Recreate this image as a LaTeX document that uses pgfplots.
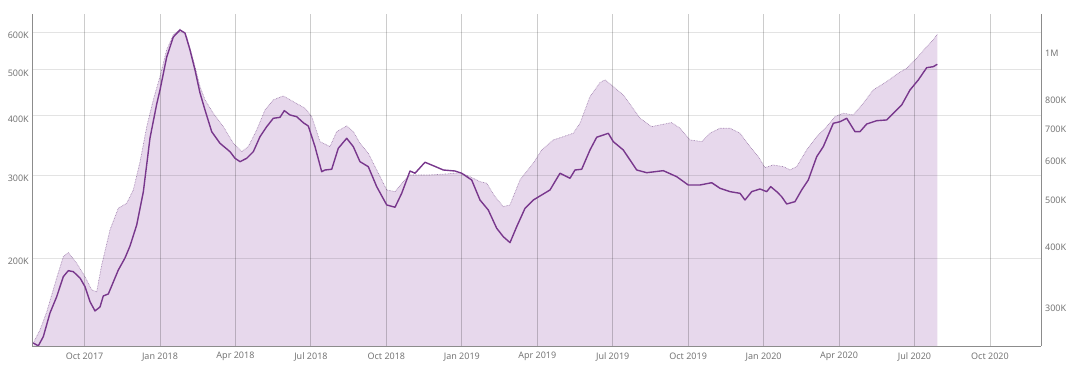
\documentclass[border=0pt]{standalone}
\usepackage{pgfplots}
\pgfplotsset{compat=1.18}
\usepackage{fontspec}
\setmainfont{Noto Sans}
\definecolor{areafill}{RGB}{231,216,236}
\definecolor{areaedge}{RGB}{165,135,178}
\definecolor{linecol}{RGB}{120,55,140}
\definecolor{labcol}{RGB}{118,118,118}
\definecolor{axcol}{RGB}{140,140,140}
\begin{document}
\begin{tikzpicture}
\path[use as bounding box] (-32pt,-22pt) rectangle (1048pt,346pt);
% right axis: area series
\begin{axis}[
  at={(0pt,0pt)}, anchor=south west, scale only axis,
  width=1009pt, height=332pt,
  xmin=6.910, xmax=47.029,
  ymode=log, ymin=251.6, ymax=1204,
  axis x line=none,
  axis y line*=right,
  axis line style={draw=axcol, line width=0.8pt, -},
  major tick length=0pt,
  ytick={300,400,500,600,700,800,1000},
  yticklabels={300K,400K,500K,600K,700K,800K,1M},
  yticklabel style={anchor=west, inner sep=0pt, xshift=4pt, font=\fontsize{9}{10}\selectfont, text=labcol},
]
\addplot[fill=areafill, draw=none] coordinates {
(6.962,240) (6.962,255.2) (7.228,271.3) (7.495,295.4) (7.892,346.7) (8.155,383.4) (8.354,390.7) (8.688,371.6) (9.018,348.9) (9.284,327.7) (9.483,325.0) (9.682,368.7) (10.012,434.9) (10.342,481.7) (10.676,493.2) (10.938,525.2) (11.205,599.3) (11.471,706.9) (11.733,802.9) (12.000,896.2) (12.266,1016.5) (12.529,1091.0) (12.795,1120.7) (13.061,1082.3) (13.324,969.6) (13.590,854.9) (13.789,802.9) (14.119,754.0) (14.517,707.9) (14.914,654.5) (15.248,629.1) (15.511,644.2) (15.845,696.9) (16.175,765.9) (16.505,802.9) (16.902,818.2) (17.300,796.5) (17.765,772.1) (18.032,742.1) (18.362,659.5) (18.759,644.2) (19.026,691.4) (19.423,710.2) (19.686,691.4) (19.952,654.5) (20.282,624.4) (20.616,577.1) (21.014,525.2) (21.344,521.0) (21.674,546.2) (21.940,563.7) (22.735,563.7) (23.399,566.3) (23.928,569.8) (24.326,559.1) (24.723,546.2) (24.990,542.0) (25.320,508.8) (25.650,485.4) (25.916,489.3) (26.314,550.5) (26.843,595.7) (27.177,634.2) (27.638,664.8) (28.036,675.2) (28.433,686.2) (28.700,719.3) (29.097,815.5) (29.495,871.1) (29.693,882.4) (30.023,854.9) (30.421,822.0) (30.755,777.9) (31.085,736.5) (31.550,707.9) (31.880,713.6) (32.346,721.4) (32.676,702.5) (33.073,664.8) (33.538,659.5) (33.868,686.2) (34.266,702.5) (34.664,702.5) (35.061,686.2) (35.459,644.2) (35.789,614.5) (36.055,583.4) (36.385,590.9) (36.783,586.2) (37.049,577.1) (37.316,586.2) (37.713,634.2) (38.111,675.2) (38.508,707.9) (38.838,742.1) (39.168,754.0) (39.566,748.0) (39.964,790.5) (40.361,841.7) (40.894,875.3) (41.356,910.7) (41.690,932.4) (42.087,977.4) (42.485,1032.4) (42.747,1065.5) (42.906,1094.6) (42.906,240)
};
\addplot[draw=areaedge, line width=0.7pt, dash pattern=on 0.7pt off 0.9pt] coordinates {
(6.962,255.2) (7.228,271.3) (7.495,295.4) (7.892,346.7) (8.155,383.4) (8.354,390.7) (8.688,371.6) (9.018,348.9) (9.284,327.7) (9.483,325.0) (9.682,368.7) (10.012,434.9) (10.342,481.7) (10.676,493.2) (10.938,525.2) (11.205,599.3) (11.471,706.9) (11.733,802.9) (12.000,896.2) (12.266,1016.5) (12.529,1091.0) (12.795,1120.7) (13.061,1082.3) (13.324,969.6) (13.590,854.9) (13.789,802.9) (14.119,754.0) (14.517,707.9) (14.914,654.5) (15.248,629.1) (15.511,644.2) (15.845,696.9) (16.175,765.9) (16.505,802.9) (16.902,818.2) (17.300,796.5) (17.765,772.1) (18.032,742.1) (18.362,659.5) (18.759,644.2) (19.026,691.4) (19.423,710.2) (19.686,691.4) (19.952,654.5) (20.282,624.4) (20.616,577.1) (21.014,525.2) (21.344,521.0) (21.674,546.2) (21.940,563.7) (22.735,563.7) (23.399,566.3) (23.928,569.8) (24.326,559.1) (24.723,546.2) (24.990,542.0) (25.320,508.8) (25.650,485.4) (25.916,489.3) (26.314,550.5) (26.843,595.7) (27.177,634.2) (27.638,664.8) (28.036,675.2) (28.433,686.2) (28.700,719.3) (29.097,815.5) (29.495,871.1) (29.693,882.4) (30.023,854.9) (30.421,822.0) (30.755,777.9) (31.085,736.5) (31.550,707.9) (31.880,713.6) (32.346,721.4) (32.676,702.5) (33.073,664.8) (33.538,659.5) (33.868,686.2) (34.266,702.5) (34.664,702.5) (35.061,686.2) (35.459,644.2) (35.789,614.5) (36.055,583.4) (36.385,590.9) (36.783,586.2) (37.049,577.1) (37.316,586.2) (37.713,634.2) (38.111,675.2) (38.508,707.9) (38.838,742.1) (39.168,754.0) (39.566,748.0) (39.964,790.5) (40.361,841.7) (40.894,875.3) (41.356,910.7) (41.690,932.4) (42.087,977.4) (42.485,1032.4) (42.747,1065.5) (42.906,1094.6)
};
\end{axis}
% left axis: line series, grid
\begin{axis}[
  at={(0pt,0pt)}, anchor=south west, scale only axis,
  width=1009pt, height=332pt,
  xmin=6.910, xmax=47.029,
  ymode=log, ymin=130.9, ymax=656,
  axis x line*=bottom, axis y line*=left,
  axis line style={draw=axcol, line width=0.8pt, -},
  major tick length=0pt,
  xtick={9,12,15,18,21,24,27,30,33,36,39,42,45},
  xticklabels={Oct 2017,Jan 2018,Apr 2018,Jul 2018,Oct 2018,Jan 2019,Apr 2019,Jul 2019,Oct 2019,Jan 2020,Apr 2020,Jul 2020,Oct 2020},
  ytick={200,300,400,500,600},
  yticklabels={200K,300K,400K,500K,600K},
  xticklabel style={anchor=center, inner sep=0pt, yshift=-10.7pt, font=\fontsize{9}{10}\selectfont, text=labcol},
  yticklabel style={anchor=east, inner sep=0pt, xshift=-3pt, yshift=-3pt, font=\fontsize{9}{10}\selectfont, text=labcol},
  xmajorgrids, ymajorgrids,
  x grid style={draw=black, draw opacity=0.2, line width=0.9pt},
  y grid style={draw=black, draw opacity=0.11, line width=0.9pt},
]
\addplot[draw=linecol, line width=1.4pt, line join=round] coordinates {
(6.962,132.8) (7.161,131.0) (7.360,137.0) (7.626,153.7) (7.892,166.3) (8.155,183.3) (8.354,188.7) (8.553,187.8) (8.819,182.1) (9.018,174.6) (9.217,162.3) (9.415,155.2) (9.614,158.2) (9.745,166.9) (9.944,168.5) (10.143,178.6) (10.342,189.3) (10.608,200.7) (10.807,212.7) (11.073,235.5) (11.336,276.5) (11.602,359.3) (11.869,423.8) (12.000,453.6) (12.266,532.4) (12.529,586.7) (12.795,607.0) (12.994,598.2) (13.193,550.8) (13.391,499.9) (13.590,447.1) (13.789,411.6) (14.055,370.5) (14.385,350.2) (14.783,336.2) (14.982,325.6) (15.181,320.3) (15.447,325.6) (15.710,336.2) (15.976,361.6) (16.242,379.6) (16.505,395.4) (16.771,397.3) (16.942,410.3) (17.169,401.8) (17.435,398.5) (17.698,387.0) (17.896,380.9) (18.163,344.5) (18.429,305.1) (18.560,307.6) (18.827,308.7) (19.089,341.8) (19.423,358.8) (19.686,344.5) (19.952,320.3) (20.282,312.6) (20.616,283.7) (21.014,259.6) (21.344,256.7) (21.610,274.7) (21.940,306.1) (22.139,302.8) (22.536,319.4) (22.866,314.1) (23.264,307.6) (23.729,306.1) (23.996,302.8) (24.393,293.0) (24.723,265.9) (25.053,253.3) (25.387,231.8) (25.650,222.5) (25.916,216.2) (26.183,233.6) (26.513,255.4) (26.843,265.9) (27.177,272.5) (27.507,279.2) (27.904,302.8) (28.302,295.5) (28.501,307.6) (28.767,308.7) (29.097,339.0) (29.363,360.6) (29.825,367.6) (30.023,353.0) (30.421,339.0) (30.954,307.6) (31.351,303.6) (32.011,306.6) (32.544,297.8) (33.005,286.0) (33.471,286.0) (33.936,289.2) (34.266,281.5) (34.664,276.9) (35.061,274.7) (35.260,265.9) (35.526,276.9) (35.856,280.5) (36.123,276.9) (36.282,283.7) (36.520,276.9) (36.719,270.2) (36.918,260.8) (37.248,263.8) (37.514,279.2) (37.777,293.0) (38.111,328.1) (38.373,344.5) (38.771,385.9) (39.037,388.9) (39.304,395.4) (39.634,370.5) (39.832,370.5) (40.099,384.6) (40.497,390.8) (40.894,392.2) (41.157,405.1) (41.491,421.8) (41.821,453.6) (42.151,476.2) (42.485,505.5) (42.747,507.9) (42.906,513.9)
};
\end{axis}
\end{tikzpicture}
\end{document}
